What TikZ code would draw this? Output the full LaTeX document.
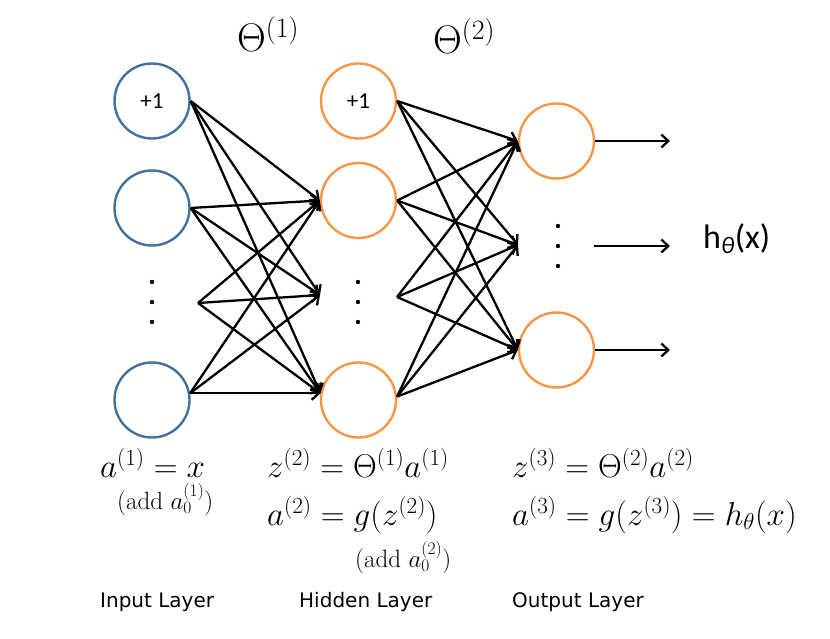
\RequirePackage{fix-cm}
\documentclass[tikz,border=0pt]{standalone}
\usepackage{fontspec}
\newfontfamily\carlito{Carlito}
\newfontfamily\dejavu{DejaVu Sans}
\usetikzlibrary{arrows.meta}
\definecolor{inblue}{RGB}{65,113,156}
\definecolor{hidorange}{RGB}{247,150,70}
\begin{document}
\begin{tikzpicture}[x=1pt,y=-1pt,
  unit/.style={circle, line width=2.4pt, minimum size=75pt, inner sep=0pt},
  inunit/.style={unit, draw=inblue},
  hidunit/.style={unit, draw=hidorange},
  biaslabel/.style={font=\carlito\fontsize{23}{27}\selectfont},
  edge/.style={line width=2.3pt, -{Straight Barb[length=7pt,width=13pt]}},
  eqbig/.style={anchor=base west, inner sep=0pt, font=\fontsize{33}{38}\selectfont},
  eqsmall/.style={anchor=base west, inner sep=0pt, font=\fontsize{25}{29}\selectfont},
  eqtheta/.style={anchor=base west, inner sep=0pt, font=\fontsize{40}{46}\selectfont},
  layerlabel/.style={anchor=base west, inner sep=0pt, font=\dejavu\fontsize{20}{24}\selectfont},
  dotmark/.style={fill=black}
]
\useasboundingbox (0,0) rectangle (830,639);

% input layer
\node[inunit, biaslabel] (in1) at (152,101) {+1};
\node[inunit] (in2) at (152,208) {};
\node[inunit] (in4) at (152,400) {};
\coordinate (indot) at (198,303);
\foreach \yy in {282,302,322} \fill[dotmark] (152,\yy) circle (2.2);

% hidden layer
\node[hidunit, biaslabel] (h1) at (358.5,101) {+1};
\node[hidunit] (h2) at (358.5,200.5) {};
\node[hidunit] (h4) at (358.5,400) {};
\coordinate (hdotin) at (320,295);
\coordinate (hdotout) at (397,297);
\foreach \yy in {282,302,322} \fill[dotmark] (358,\yy) circle (2.2);

% output layer
\node[hidunit] (o1) at (556.5,141) {};
\node[hidunit] (o3) at (556.5,350) {};
\coordinate (odotin) at (518,245);
\coordinate (odotout) at (594,246);
\foreach \yy in {226,246,266} \fill[dotmark] (558,\yy) circle (2.2);

% connections input -> hidden
\foreach \s in {in1.east, in2.east, indot, in4.10}
  \foreach \t in {h2.west, hdotin, h4.170}
    \draw[edge] (\s) -- (\t);

% connections hidden -> output
\foreach \s in {h1.east, h2.east, hdotout, h4.5}
  \foreach \t in {o1.west, odotin, o3.west}
    \draw[edge] (\s) -- (\t);

% output arrows
\coordinate (out1) at (670,141);
\coordinate (out2) at (670,246);
\coordinate (out3) at (670,350);
\draw[edge] (o1.east) -- (out1);
\draw[edge] (odotout) -- (out2);
\draw[edge] (o3.east) -- (out3);
\node[anchor=base west, inner sep=0pt, font=\carlito\fontsize{34}{40}\selectfont] (hx) at (703,248) {h\textsubscript{\textit{θ}}(x)};

% theta labels
\node[eqtheta] (th1) at (237,52) {$\Theta^{(1)}$};
\node[eqtheta] (th2) at (433,54) {$\Theta^{(2)}$};

% equations
\node[eqbig] (eq1) at (100,477) {$a^{(1)} = x$};
\node[eqsmall] (add1) at (117,509) {$(\mathrm{add}\ a_0^{(1)})$};
\node[eqbig] (eq2) at (267,477) {$z^{(2)} = \Theta^{(1)}a^{(1)}$};
\node[eqbig] (eq3) at (267,525) {$a^{(2)} = g(z^{(2)})$};
\node[eqsmall] (add2) at (355,567) {$(\mathrm{add}\ a_0^{(2)})$};
\node[eqbig] (eq4) at (512,477) {$z^{(3)} = \Theta^{(2)}a^{(2)}$};
\node[eqbig] (eq5) at (512,525) {$a^{(3)} = g(z^{(3)}) = h_\theta(x)$};

% layer labels
\node[layerlabel] (lin) at (100,607) {Input Layer};
\node[layerlabel] (lhid) at (299,607) {Hidden Layer};
\node[layerlabel] (lout) at (512,607) {Output Layer};
\end{tikzpicture}
\end{document}
